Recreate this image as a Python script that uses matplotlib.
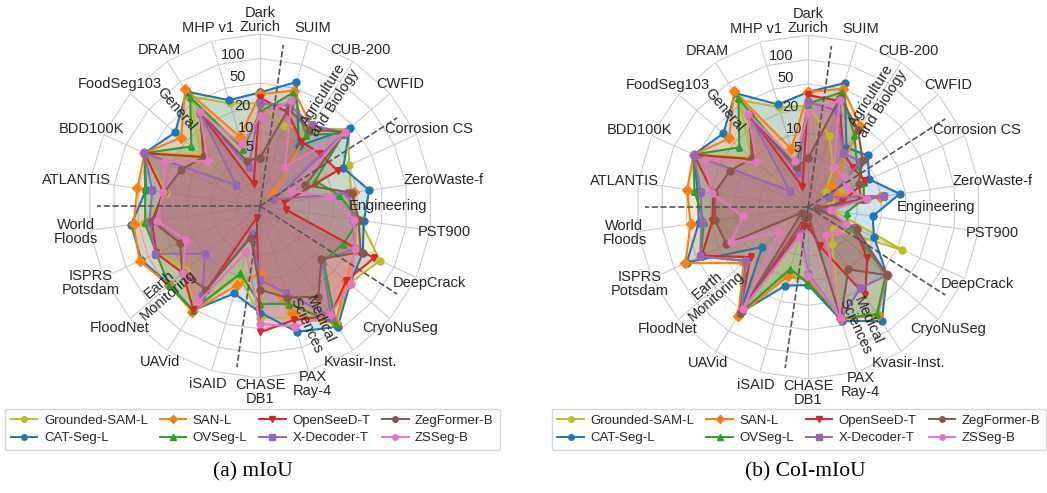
import numpy as np
import matplotlib.pyplot as plt
from matplotlib.lines import Line2D

plt.rcParams['font.family'] = ['Liberation Sans', 'DejaVu Sans']

datasets = ['Dark\nZurich', 'SUIM', 'CUB-200', 'CWFID', 'Corrosion CS', 'ZeroWaste-f', 'PST900',
            'DeepCrack', 'CryoNuSeg', 'Kvasir-Inst.', 'PAX\nRay-4', 'CHASE\nDB1', 'iSAID', 'UAVid',
            'FloodNet', 'ISPRS\nPotsdam', 'World\nFloods', 'ATLANTIS', 'BDD100K', 'FoodSeg103',
            'DRAM', 'MHP v1']
models = ['Grounded-SAM-L', 'CAT-Seg-L', 'SAN-L', 'OVSeg-L', 'OpenSeeD-T', 'X-Decoder-T',
          'ZegFormer-B', 'ZSSeg-B']
colors = ['#bcbd22', '#1f77b4', '#ff7f0e', '#2ca02c', '#d62728', '#9467bd', '#8c564b', '#e377c2']
markers = ['o', 'o', 'D', '^', 'v', 's', 'o', 'o']
domains = ['General', 'Agriculture\nand Biology', 'Engineering', 'Medical\nSciences', 'Earth\nMonitoring']
domain_first = [17, 1, 4, 8, 12]
domain_size = [6, 3, 4, 4, 5]
radial_ticks = [5, 10, 20, 50, 100]

# mIoU
miou_gsam = [21, 11.5, 15, 33, 18, 15, 20, 52, 34, 65, 33, 28, 8, 40, 18, 29, 33, 16.3, 45, 9.5, 50, 24]
miou_catseg = [29.6, 48, 7.6, 34.5, 14.7, 26.7, 22.5, 29, 35, 74.5, 51, 23.8, 14.6, 41, 36, 50, 49.6, 31, 45, 28.5, 59, 26.7]
miou_san = [28, 36.5, 16.4, 0.7, 0.7, 16.5, 17.3, 22.5, 30, 66, 28, 6.7, 11, 43, 37, 52.7, 46, 40.8, 45, 22.3, 64, 7.8]
miou_ovseg = [16, 34, 11.8, 27, 5.2, 9.9, 19.5, 14.7, 11.5, 67, 20.5, 18.3, 7.3, 41, 37, 30, 32, 32, 45, 14.5, 48, 5]
miou_openseed = [25, 18, 9, 10, 12, 1.1, 1.2, 42.7, 30, 50, 35, 44, 0.45, 40, 20.8, 30, 26, 18, 45, 8.5, 27, 1.0]
miou_xdecoder = [21, 22.6, 17, 28, 0.6, 13.7, 16, 22, 10.8, 52, 14.2, 8.3, 1.4, 24, 8, 31, 28, 25.6, 45, 1.6, 27, 2.4]
miou_zegformer = [3.3, 20, 14.4, 29, 3.5, 15.4, 19, 27, 10.5, 24.7, 16.8, 11.5, 1.7, 19, 21, 13.3, 25.5, 17.5, 12.7, 8.5, 27, 3.1]
miou_zsseg = [14, 26.6, 3.1, 29, 1.9, 7.5, 16.6, 22, 36, 48, 43, 34, 3.3, 30, 20.5, 10.8, 22, 18, 23, 7, 28, 5.9]

# CoI-mIoU
coi_gsam = [20, 8.4, 3, 1, 2, 1.0, 1.15, 21.5, 1.7, 2.7, 30, 8, 7, 43, 11, 33, 24, 27, 43.6, 8.8, 45, 22]
coi_catseg = [31, 48, 7.4, 9.7, 6.5, 15.2, 6.1, 7.8, 22, 59, 34.6, 9.5, 10.8, 43, 5.3, 55, 27, 28, 43.6, 28.5, 58, 24]
coi_san = [31, 40, 17.3, 1.6, 1.5, 7.8, 0.6, 3.8, 22, 47, 33, 8, 7.8, 48.6, 12.2, 57.5, 35, 39, 43.6, 22.4, 62, 5.2]
coi_ovseg = [21.5, 36, 12, 6, 5.3, 4.4, 2.2, 2.7, 21, 45, 32, 8.9, 6, 44, 11, 34, 23, 31, 43.6, 14.6, 48, 2.6]
coi_openseed = [28, 27, 6, 5, 5.6, 1.8, 0.5, 3.7, 9.5, 22.7, 2.4, 0.8, 0.84, 45, 9, 33, 17.5, 17, 43.6, 8, 26, 0.9]
coi_xdecoder = [22.8, 19.7, 6, 7, 1.0, 9, 0.5, 3.5, 22, 17.2, 32, 6.5, 1.3, 40, 11, 35, 24.7, 25.3, 43.6, 1.1, 25, 1.9]
coi_zegformer = [3.4, 30, 15, 7.7, 4.3, 4, 0.3, 4, 22, 8.3, 32, 0.3, 0.4, 40, 0.3, 14, 16, 16.5, 12.5, 8.5, 25, 2.5]
coi_zsseg = [15.8, 27.8, 3.2, 3.2, 2.7, 4.9, 1.0, 2.5, 2.1, 1.7, 32, 7, 1.5, 38, 2.2, 12, 6.3, 18, 30, 6.9, 27.4, 3.3]

miou_all = [miou_gsam, miou_catseg, miou_san, miou_ovseg, miou_openseed, miou_xdecoder, miou_zegformer, miou_zsseg]
coi_all = [coi_gsam, coi_catseg, coi_san, coi_ovseg, coi_openseed, coi_xdecoder, coi_zegformer, coi_zsseg]

R_MAX = 2.25
GRID_C = '#cccccc'
TEXT_C = '#262626'


def rad(v):
    return np.log10(1 + np.asarray(v, dtype=float))


def draw_radar(ax, series):
    n = len(datasets)
    theta = np.linspace(0, 2 * np.pi, n, endpoint=False)
    closed = np.append(theta, theta[0])
    ax.set_theta_offset(np.pi / 2)
    ax.set_theta_direction(-1)
    ax.set_ylim(0, R_MAX)
    ax.set_yticks([])
    ax.set_xticks(theta)
    ax.set_xticklabels([])
    ax.xaxis.grid(True, color=GRID_C, lw=0.8)
    ax.spines['polar'].set_visible(False)

    for r in np.linspace(0, R_MAX, 8)[1:]:
        ax.plot(closed, [r] * (n + 1), color=GRID_C, lw=0.8, zorder=0.5)

    for vals, c, m, name in zip(series, colors, markers, models):
        rv = rad(vals)
        rv = np.append(rv, rv[0])
        ax.fill(closed, rv, color=c, alpha=0.2, zorder=2)
        ax.plot(closed, rv, color=c, marker=m, ms=5, lw=1.5, label=name, zorder=3)

    # domain separators and names
    step = 2 * np.pi / n
    for name, first, size in zip(domains, domain_first, domain_size):
        b = (first - 0.5) * step
        ax.plot([b, b], [0, 2.13], ls='--', color='#555555', lw=1.2, zorder=4)
        mid = (first + (size - 1) / 2) * step
        phi = (90 - np.degrees(mid) + 180) % 360 - 180
        rot = phi if -90 < phi <= 90 else phi - 180 if phi > 90 else phi + 180
        ax.text(mid, 1.67, name, rotation=rot, rotation_mode='anchor', ha='center', va='center',
                fontsize=10.5, color=TEXT_C, linespacing=1.0, zorder=5)

    for th, name in zip(theta, datasets):
        ax.text(th, 2.43, name, ha='center', va='center', fontsize=10.5, color=TEXT_C,
                linespacing=1.0)

    for v in radial_ticks:
        ax.text(np.deg2rad(-10), rad(v), str(v), ha='center', va='center', fontsize=10.5,
                color=TEXT_C, zorder=5)


fig = plt.figure(figsize=(10.47, 4.93), dpi=100)
ax1 = fig.add_axes([0.0841, 0.2333, 0.3286, 0.6978], projection='polar')
ax2 = fig.add_axes([0.6077, 0.2312, 0.3286, 0.6978], projection='polar')
draw_radar(ax1, miou_all)
draw_radar(ax2, coi_all)

handles = [Line2D([0], [0], color=c, marker=m, ms=4, lw=1.4) for c, m in zip(colors, markers)]
for cx in (0.241, 0.763):
    leg = fig.legend(handles, models, loc='center', bbox_to_anchor=(cx, 0.129), ncol=4,
                     fontsize=9.5, frameon=True, edgecolor='#cccccc', handlelength=2.0,
                     columnspacing=0.9, handletextpad=0.5, borderpad=0.45, labelspacing=0.4)
    for t in leg.get_texts():
        t.set_color(TEXT_C)

fig.text(0.242, 0.043, '(a) mIoU', ha='center', va='center', fontsize=15.5, family='Liberation Serif')
fig.text(0.769, 0.043, '(b) CoI-mIoU', ha='center', va='center', fontsize=15.5, family='Liberation Serif')

fig.savefig('out.png', dpi=100)
